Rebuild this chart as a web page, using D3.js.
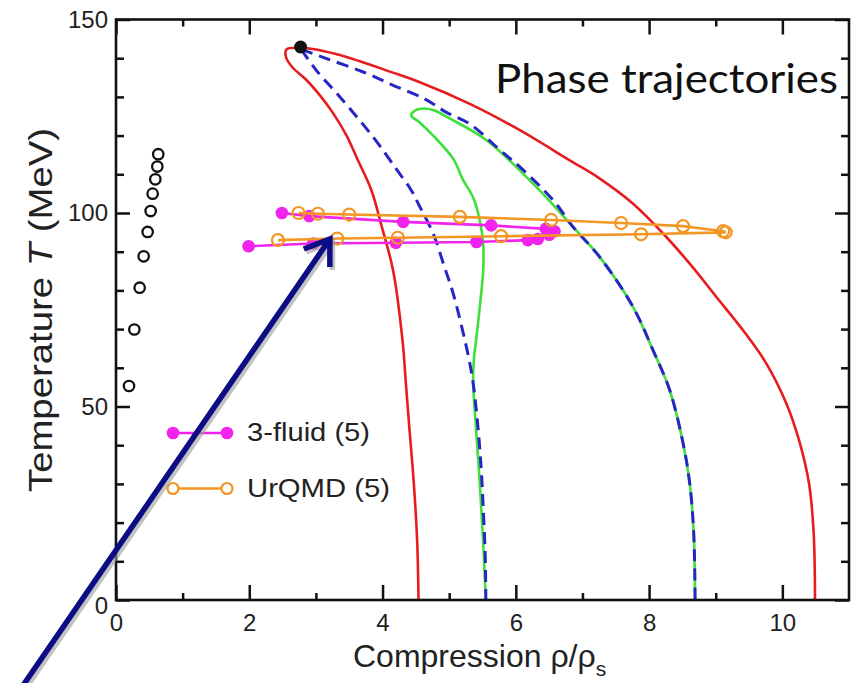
<!DOCTYPE html>
<html>
<head>
<meta charset="utf-8">
<script src="https://cdn.jsdelivr.net/npm/d3@7"></script>
<style>
  body { margin: 0; background: #fff; }
  svg { display: block; font-family: "Liberation Sans", Arial, sans-serif; }
</style>
</head>
<body>
<svg id="chart"></svg>
<script>
// tick values
const xMajor = [0, 2, 4, 6, 8, 10];
const xMinor = [1, 3, 5, 7, 9];
const yMajor = [0, 50, 100, 150];
const yMinor = [10, 20, 30, 40, 60, 70, 80, 90, 110, 120, 130, 140];

// phase boundaries [compression, T]
const redBoundary = [[4.54,0],[4.52,15],[4.47,30],[4.40,45],[4.35,56],[4.30,67],[4.16,85],[3.98,97],[3.83,106],
  [3.62,114],[3.46,120],[3.25,126],[3.06,130.4],[2.85,134.5],[2.65,137.6],[2.55,140.3],[2.56,142.3],[2.75,142.7],
  [2.95,142.4],[3.3,141.1],[3.66,139.2],[4.1,136.6],[4.56,133.8],[5.31,128.2],[6.06,121.4],[6.81,113.6],
  [7.26,108.9],[7.76,102.4],[8.21,94.7],[8.61,86.9],[9.01,78.3],[9.41,69.7],[9.76,61.1],[10.06,50.8],
  [10.25,41.3],[10.40,30.1],[10.47,17.2],[10.49,0]];
const blueLeft = [[2.78,142.3],[3.0,137],[3.36,130],[3.86,119.6],[4.2,111.5],[4.43,105.9],[4.56,101.6],[4.76,94.7],
  [4.93,86],[5.06,79.2],[5.21,69],[5.30,62],[5.36,56],[5.43,45],[5.48,34],[5.51,24],[5.54,12],[5.55,0]];
const blueRight = [[2.78,142.3],[3.16,139.9],[3.7,136.5],[4.16,133],[4.63,129.5],[4.96,126],[5.31,123],[5.76,116.3],
  [6.06,111.9],[6.56,103.3],[6.86,96.4],[7.26,88.6],[7.76,75.7],[8.06,64.5],[8.31,54.2],[8.51,40.5],[8.61,30.1],
  [8.67,17.2],[8.69,0]];
const greenCurve = [[5.55,0],[5.51,15],[5.46,30],[5.40,45],[5.36,56],[5.37,62],[5.41,68],[5.47,77.5],[5.51,85],
  [5.51,92],[5.46,98],[5.36,104],[5.21,108.5],[5.06,114],[4.76,120],[4.55,123.5],[4.43,125.2],[4.5,126.6],
  [4.62,127],[4.76,126.6],[5.0,124.5],[5.56,118.8],[6.31,106.7],[6.81,97.3],[7.26,88.6],[7.76,75.7],[8.06,64.5],
  [8.31,54.2],[8.51,40.5],[8.61,30.1],[8.67,17.2],[8.69,0]];

// trajectories
const fluid3 = [[2.49,100],[2.9,99.2],[4.31,97.7],[5.63,96.8],[6.45,95.9],[6.58,95.3],[6.5,94.4],[6.33,93.3],
  [6.18,93],[5.41,92.5],[4.2,92.3],[2.96,92.1],[1.99,91.4]];
const urqmd = [[2.74,100],[3.03,99.8],[3.50,99.6],[5.16,99.0],[6.53,98.2],[7.58,97.4],[8.51,96.6],[9.11,95.3],
  [9.15,95.0],[7.88,94.5],[5.78,94.0],[4.23,93.6],[3.32,93.4],[2.43,93.0]];

// early-stage points and critical point
const earlyPoints = [[0.195,55.3],[0.275,69.9],[0.355,80.7],[0.415,88.8],[0.475,95.1],[0.52,100.5],
  [0.55,105],[0.59,108.7],[0.62,112],[0.634,115.2]];
const criticalPoint = [2.77, 142.9];

// annotation arrow (data units)
const arrowFrom = [-1.44, -23.2];
const arrowTo = [3.21, 93.3];

const legendItems = ['3-fluid (5)', 'UrQMD (5)'];

const W = 858, H = 683;
const svg = d3.select('#chart').attr('width', W).attr('height', H);

const x = d3.scaleLinear().domain([0, 11]).range([116, 849]);
const y = d3.scaleLinear().domain([0, 150]).range([600, 19.5]);

const red = '#e61c1e', blue = '#2626c4', green = '#3ee03a', magenta = '#f024ec', orange = '#f29624';

const smooth = d3.line().x(d => x(d[0])).y(d => y(d[1])).curve(d3.curveCatmullRom.alpha(0.5));
const straight = d3.line().x(d => x(d[0])).y(d => y(d[1]));

const plot = svg.append('g');

plot.append('path').attr('d', smooth(redBoundary))
  .attr('fill', 'none').attr('stroke', red).attr('stroke-width', 2.6);
plot.append('path').attr('d', smooth(greenCurve))
  .attr('fill', 'none').attr('stroke', green).attr('stroke-width', 2.6);
[blueLeft, blueRight].forEach(c => {
  plot.append('path').attr('d', smooth(c))
    .attr('fill', 'none').attr('stroke', blue).attr('stroke-width', 3)
    .attr('stroke-dasharray', '12,7');
});

// 3-fluid
plot.append('path').attr('d', straight(fluid3))
  .attr('fill', 'none').attr('stroke', magenta).attr('stroke-width', 2.6);
plot.selectAll('.f3').data(fluid3).join('circle').attr('class', 'f3')
  .attr('cx', d => x(d[0])).attr('cy', d => y(d[1])).attr('r', 6.3).attr('fill', magenta);

// UrQMD
plot.append('path').attr('d', straight(urqmd))
  .attr('fill', 'none').attr('stroke', orange).attr('stroke-width', 2.6);
plot.selectAll('.uq').data(urqmd).join('circle').attr('class', 'uq')
  .attr('cx', d => x(d[0])).attr('cy', d => y(d[1])).attr('r', 6)
  .attr('fill', 'none').attr('stroke', orange).attr('stroke-width', 2.2);

// early points
plot.selectAll('.ep').data(earlyPoints).join('circle').attr('class', 'ep')
  .attr('cx', d => x(d[0])).attr('cy', d => y(d[1])).attr('r', 5.2)
  .attr('fill', 'none').attr('stroke', '#111').attr('stroke-width', 2.3);
plot.append('circle').attr('cx', x(criticalPoint[0])).attr('cy', y(criticalPoint[1]))
  .attr('r', 6.5).attr('fill', '#111');

// axes
const axG = svg.append('g').attr('font-family', '"Liberation Sans", Arial, sans-serif');
function styleAxis(g) {
  g.select('.domain').remove();
  g.selectAll('line').attr('stroke', '#111').attr('stroke-width', 2.5);
  g.selectAll('text').attr('fill', '#222').attr('font-size', 24);
}
axG.append('g').attr('transform', 'translate(0,600)')
  .call(d3.axisBottom(x).tickValues(xMajor).tickSizeInner(-15).tickSizeOuter(0).tickPadding(14))
  .call(styleAxis);
axG.append('g').attr('transform', 'translate(0,600)')
  .call(d3.axisBottom(x).tickValues(xMinor).tickSizeInner(-7).tickSizeOuter(0).tickFormat(''))
  .call(styleAxis);
axG.append('g').attr('transform', 'translate(0,19.5)')
  .call(d3.axisTop(x).tickValues(xMajor).tickSizeInner(-15).tickSizeOuter(0).tickFormat(''))
  .call(styleAxis);
axG.append('g').attr('transform', 'translate(0,19.5)')
  .call(d3.axisTop(x).tickValues(xMinor).tickSizeInner(-7).tickSizeOuter(0).tickFormat(''))
  .call(styleAxis);
const yAxisG = axG.append('g').attr('transform', 'translate(116,0)')
  .call(d3.axisLeft(y).tickValues(yMajor).tickSizeInner(-14).tickSizeOuter(0).tickPadding(8))
  .call(styleAxis);
yAxisG.selectAll('.tick text').filter(d => d === 0).attr('dy', '0.55em');
axG.append('g').attr('transform', 'translate(116,0)')
  .call(d3.axisLeft(y).tickValues(yMinor).tickSizeInner(-8).tickSizeOuter(0).tickFormat(''))
  .call(styleAxis);
axG.append('g').attr('transform', 'translate(849,0)')
  .call(d3.axisRight(y).tickValues(yMajor).tickSizeInner(-14).tickSizeOuter(0).tickFormat(''))
  .call(styleAxis);
axG.append('g').attr('transform', 'translate(849,0)')
  .call(d3.axisRight(y).tickValues(yMinor).tickSizeInner(-8).tickSizeOuter(0).tickFormat(''))
  .call(styleAxis);

svg.append('rect').attr('x', 116).attr('y', 19.5).attr('width', 733).attr('height', 580.5)
  .attr('fill', 'none').attr('stroke', '#111').attr('stroke-width', 2.6);

// axis titles
const xt = svg.append('text').attr('x', 353).attr('y', 667).attr('font-size', 32).attr('fill', '#222');
xt.append('tspan').text('Compression ρ/ρ');
xt.append('tspan').attr('dy', 9).attr('font-size', 21).text('s');

const yt = svg.append('text').attr('transform', 'translate(52,310) rotate(-90)')
  .attr('text-anchor', 'middle').attr('font-size', 34).attr('fill', '#222')
  .attr('textLength', 364).attr('lengthAdjust', 'spacingAndGlyphs');
yt.append('tspan').text('Temperature ');
yt.append('tspan').attr('font-style', 'italic').text('T');
yt.append('tspan').text(' (MeV)');

svg.append('text').attr('x', 495).attr('y', 93)
  .attr('font-family', 'Lato, "Open Sans", sans-serif').attr('font-size', 40).attr('fill', '#111')
  .attr('textLength', 343).attr('lengthAdjust', 'spacingAndGlyphs')
  .text('Phase trajectories');

// legend
const legend = svg.append('g');
const legRows = [
  { label: legendItems[0], color: magenta, filled: true, y: 433, tl: 123 },
  { label: legendItems[1], color: orange, filled: false, y: 488.5, tl: 143 }
];
legRows.forEach(r => {
  legend.append('line').attr('x1', 173).attr('x2', 227).attr('y1', r.y).attr('y2', r.y)
    .attr('stroke', r.color).attr('stroke-width', 2.6);
  [173, 227].forEach(cx => {
    legend.append('circle').attr('cx', cx).attr('cy', r.y).attr('r', r.filled ? 6.3 : 5.5)
      .attr('fill', r.filled ? r.color : '#fff').attr('stroke', r.filled ? 'none' : r.color)
      .attr('stroke-width', 2.2);
  });
  legend.append('text').attr('x', 247).attr('y', r.y + 8).attr('font-size', 26).attr('fill', '#222')
    .attr('textLength', r.tl).attr('lengthAdjust', 'spacingAndGlyphs').text(r.label);
});

// annotation arrow
const p0 = [x(arrowFrom[0]), y(arrowFrom[1])];
const p1 = [x(arrowTo[0]), y(arrowTo[1])];
const ang = Math.atan2(p0[1] - p1[1], p0[0] - p1[0]);
const barb = 28, spread = 0.6;
const b1 = [p1[0] + barb * Math.cos(ang + spread), p1[1] + barb * Math.sin(ang + spread)];
const b2 = [p1[0] + barb * Math.cos(ang - spread), p1[1] + barb * Math.sin(ang - spread)];
const arrowPath = `M${p0}L${p1}M${b1}L${p1}L${b2}`;
svg.append('path').attr('d', arrowPath).attr('transform', 'translate(2.5,3)')
  .attr('fill', 'none').attr('stroke', '#9a9a9a').attr('stroke-opacity', 0.6)
  .attr('stroke-width', 5.5).attr('stroke-linejoin', 'miter');
svg.append('path').attr('d', arrowPath)
  .attr('fill', 'none').attr('stroke', '#0c0c84')
  .attr('stroke-width', 5.5).attr('stroke-linejoin', 'miter');
</script>
</body>
</html>
